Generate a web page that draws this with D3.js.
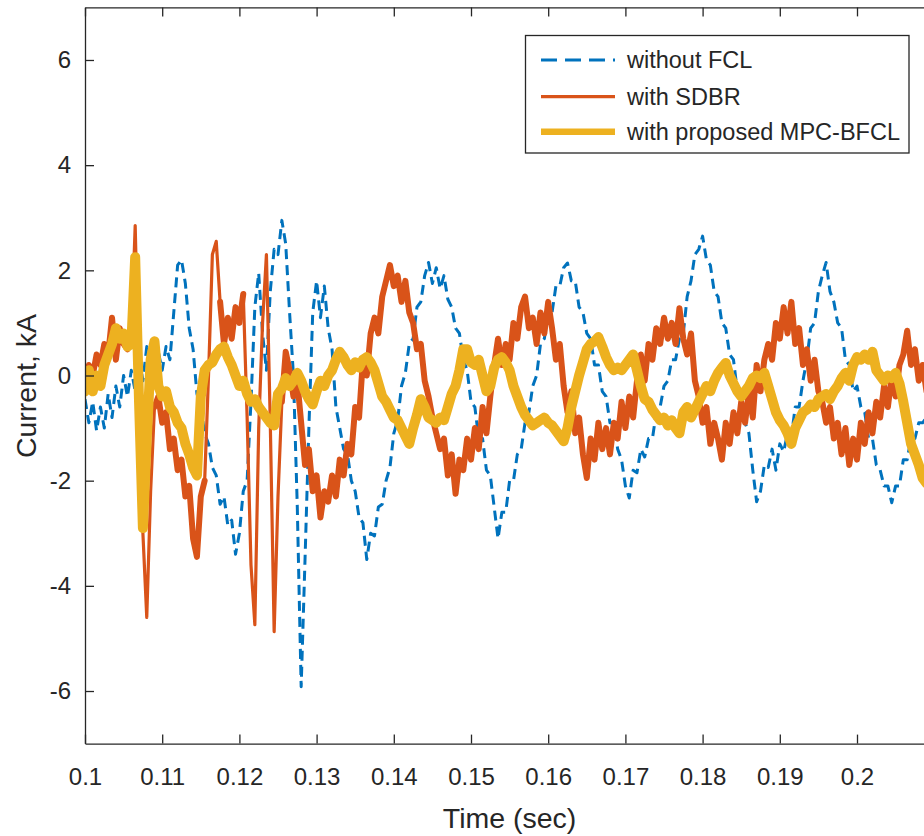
<!DOCTYPE html>
<html>
<head>
<meta charset="utf-8">
<script src="https://cdn.jsdelivr.net/npm/d3@7"></script>
<style>
  body { margin: 0; background: #fff; }
  text { font-family: "Liberation Sans", Arial, Helvetica, sans-serif; fill: #262626; }
</style>
</head>
<body>
<div id="chart"></div>
<script>
// sampling grid of the traces (sec)
var tStart = 0.1, tStep = 0.0005;

var xTicks = [0.1, 0.11, 0.12, 0.13, 0.14, 0.15, 0.16, 0.17, 0.18, 0.19, 0.2];
var yTicks = [-6, -4, -2, 0, 2, 4, 6];
var seriesNames = ["without FCL", "with SDBR", "with proposed MPC-BFCL"];

// current, kA - without FCL
var noFcl = [
  -0.45, -0.9, -0.5, -1.05, -0.6, -1.0, -0.35, -0.8, -0.2, -0.6,
  0.0, -0.4, 0.1, -0.3, 0.35, -0.1, 0.55, 0.1, -0.15, 0.45,
  0.1, 0.55, 0.3, 1.2, 2.1, 2.2, 1.75, 0.9, 0.5, -0.35,
  -0.6, -1.1, -1.3, -1.75, -1.9, -2.45, -2.3, -2.85, -2.75, -3.4,
  -3.0, -2.2, -2.0, -0.5, 1.3, 1.95, 0.8, 0.1, 1.6, 2.4,
  2.3, 2.95, 2.5, 1.2, 0.0, -2.5, -5.92, -3.5, -1.0, 1.2,
  1.8, 1.1, 1.7, 0.9, 0.5, -0.6, -1.0, -1.4, -1.5, -2.0,
  -2.2, -2.7, -2.8, -3.5, -3.0, -3.05, -2.5, -2.45, -2.0, -1.75,
  -1.1, -0.85, -0.2, 0.05, 0.6, 0.7, 1.3, 1.4, 1.9, 2.15,
  1.75, 2.05, 1.65, 1.9, 1.45, 1.3, 0.9, 0.8, 0.3, 0.1,
  -0.5, -0.6, -1.2, -1.2, -1.8, -1.9, -2.5, -3.1, -2.6, -2.6,
  -2.0, -2.0, -1.5, -1.4, -0.9, -0.7, -0.2, 0.0, 0.6, 0.7,
  1.2, 1.2, 1.7, 1.7, 2.05, 2.14, 1.8, 1.8, 1.3, 1.2,
  0.8, 0.7, 0.2, 0.2, -0.3, -0.4, -0.9, -0.9, -1.4, -1.6,
  -2.1, -2.33, -1.8, -1.85, -1.4, -1.55, -1.2, -1.2, -0.7, -0.6,
  -0.2, -0.1, 0.3, 0.3, 0.7, 0.8, 1.5, 1.8, 2.3, 2.4,
  2.65, 2.2, 2.1, 1.6, 1.5, 1.0, 0.9, 0.4, 0.3, -0.3,
  -0.4, -0.9, -1.1, -1.8, -2.4, -2.2, -1.7, -1.75, -1.4, -1.8,
  -1.3, -1.45, -1.1, -1.15, -0.6, -0.6, -0.1, 0.3, 0.9, 1.0,
  1.6, 1.9, 2.15, 1.6, 1.4, 1.0, 0.9, 0.3, 0.2, -0.3,
  -0.2, -0.6, -0.7, -1.2, -1.2, -1.7, -1.8, -2.1, -2.1, -2.42,
  -2.1, -2.1, -1.6, -1.6, -1.2, -1.2, -0.9, -0.9, -0.8
];

// current, kA - with SDBR
var sdbr = [
  -0.2, 0.2, 0.0, 0.4, 0.2, 0.6, 0.4, 1.1, 0.3, 0.9,
  0.6, 0.5, 0.7, 2.85, -0.2, -3.0, -4.6, -2.2, -0.6, -0.4,
  -0.9, -0.7, -1.4, -1.2, -1.8, -1.6, -2.3, -2.1, -3.1, -3.45,
  -2.3, -2.0, 0.0, 2.3, 2.55, 1.4, 0.6, 1.1, 0.7, 1.3,
  1.0, 1.55, -0.8, -3.6, -4.74, -1.0, 1.0, 2.3, -0.9, -4.87,
  -2.3, -0.5, 0.45, 0.1, -0.4, -0.1, -0.9, -1.7, -1.4, -2.2,
  -1.9, -2.7, -2.2, -2.4, -1.9, -2.3, -1.6, -1.9, -1.3, -1.5,
  -0.6, -0.8, 0.3, 0.0, 0.8, 1.1, 0.8, 1.5, 1.8, 2.1,
  1.7, 1.9, 1.4, 1.8, 1.2, 1.0, 0.5, 0.6, -0.1, -0.4,
  -0.8, -1.1, -1.4, -1.2, -1.9, -1.5, -2.25, -1.6, -1.8, -1.2,
  -1.6, -1.0, -1.4, -0.6, -1.1, -0.4, 0.2, 0.7, 0.2, 0.6,
  0.3, 1.0, 0.7, 1.3, 1.5, 0.9, 1.1, 0.6, 1.2, 0.8,
  1.4, 0.9, 0.3, 0.6, -0.2, -0.7, -0.3, -1.1, -0.8, -1.5,
  -1.95, -1.2, -1.6, -0.9, -1.4, -1.0, -1.5, -0.9, -1.2, -0.5,
  -1.0, -0.4, -0.8, -0.1, 0.4, -0.1, 0.6, 0.3, 0.9, 0.6,
  1.1, 0.7, 1.0, 0.6, 1.28, 0.7, 0.4, 0.8, -0.1, -0.4,
  -0.9, -0.6, -1.3, -0.9, -1.2, -1.6, -0.9, -1.3, -0.7, -1.1,
  -0.5, -0.9, -0.3, -0.8, 0.2, -0.3, 0.3, 0.6, 0.3, 1.0,
  0.7, 1.3, 0.8, 1.4, 0.6, 0.9, 0.2, 0.5, -0.1, 0.3,
  -0.3, -0.5, -0.9, -0.6, -1.2, -0.9, -1.5, -1.0, -1.7, -1.2,
  -1.6, -0.9, -1.3, -0.7, -1.1, -0.5, -0.8, -0.2, -0.6, 0.0,
  -0.4, 0.2, 0.4, 0.85, 0.2, 0.5, -0.1, 0.2, -0.3
];

// current, kA - with proposed MPC-BFCL
var mpcBfcl = [
  -0.3, 0.1, -0.3, 0.0, -0.2, 0.2, 0.4, 0.6, 0.9, 0.7,
  0.8, 0.55, 0.6, 2.25, -0.5, -2.9, -1.2, 0.3, 0.65, -0.2,
  -0.4, -0.3, -0.6, -0.7, -0.9, -1.0, -1.3, -1.5, -1.75, -1.9,
  -0.4, 0.1, 0.2, 0.25, 0.4, 0.5, 0.55, 0.35, 0.2, 0.0,
  -0.2, -0.1, -0.35, -0.5, -0.45, -0.6, -0.7, -0.8, -0.9, -0.95,
  -0.35, -0.25, -0.05, -0.2, -0.1, 0.05, -0.1, -0.3, -0.45, -0.55,
  -0.3, -0.1, -0.2, 0.0, 0.1, 0.3, 0.45, 0.35, 0.2, 0.1,
  0.25, 0.15, 0.3, 0.35, 0.25, 0.1, -0.15, -0.4, -0.5, -0.65,
  -0.8, -0.85, -1.0, -1.15, -1.3, -1.0, -0.75, -0.45, -0.6, -0.8,
  -0.85, -0.9, -0.8, -0.85, -0.6, -0.35, -0.2, 0.1, 0.5, 0.5,
  0.25, 0.2, 0.3, 0.0, -0.3, -0.2, 0.15, 0.3, 0.35, 0.25,
  0.1, -0.2, -0.4, -0.6, -0.75, -0.85, -0.95, -0.9, -0.85, -0.8,
  -0.9, -0.95, -1.05, -1.15, -1.25, -1.0, -0.6, -0.3, 0.0, 0.25,
  0.5, 0.6, 0.65, 0.73, 0.55, 0.35, 0.2, 0.1, 0.15, 0.1,
  0.2, 0.3, 0.4, 0.1, -0.2, -0.45, -0.5, -0.65, -0.75, -0.85,
  -0.8, -0.95, -0.85, -1.0, -1.1, -0.7, -0.6, -0.8, -0.65, -0.5,
  -0.35, -0.2, -0.3, -0.1, 0.05, 0.15, 0.24, 0.0, -0.15, -0.3,
  -0.4, -0.3, -0.2, -0.05, 0.0, -0.05, 0.05, -0.2, -0.45, -0.7,
  -0.85, -0.95, -1.1, -1.3, -1.0, -0.85, -0.7, -0.65, -0.55, -0.6,
  -0.45, -0.4, -0.35, -0.45, -0.3, -0.2, -0.05, 0.05, -0.1, 0.2,
  0.35, 0.3, 0.4, 0.3, 0.45, 0.1, 0.0, -0.1, 0.0, -0.05,
  0.05, -0.15, -0.5, -0.9, -1.3, -1.5, -1.7, -1.95, -2.05
];

var colors = ["#0072BD", "#D95319", "#EDB120"];

var width = 924, height = 836;
var plot = {left: 85, top: 7.4, right: 934.2, bottom: 743.6};

var svg = d3.select("#chart")
  .append("svg")
    .attr("width", width)
    .attr("height", height);

var x = d3.scaleLinear()
  .domain([0.1, 0.21])
  .range([plot.left, plot.right]);

var y = d3.scaleLinear()
  .domain([-7, 7])
  .range([plot.bottom, plot.top]);

svg.append("clipPath")
    .attr("id", "plotClip")
  .append("rect")
    .attr("x", plot.left)
    .attr("y", plot.top)
    .attr("width", plot.right - plot.left)
    .attr("height", plot.bottom - plot.top);

function toPoints(values) {
  return values.map(function(v, i) { return [tStart + i * tStep, v]; });
}

var line = d3.line()
  .x(function(d) { return x(d[0]); })
  .y(function(d) { return y(d[1]); });

var traces = svg.append("g").attr("clip-path", "url(#plotClip)");

traces.append("path")
    .attr("d", line(toPoints(noFcl)))
    .attr("fill", "none")
    .attr("stroke", colors[0])
    .attr("stroke-width", 3)
    .attr("stroke-dasharray", "10,6")
    .attr("stroke-linejoin", "round");

// sdbr: thin through the spikes, the noisy stretches look heavier
var sdbrPts = toPoints(sdbr);
traces.append("path")
    .attr("d", line(sdbrPts))
    .attr("fill", "none")
    .attr("stroke", colors[1])
    .attr("stroke-width", 3.2)
    .attr("stroke-linejoin", "round");

var sdbrHeavy = [[0, 12], [18, 31], [35, 41], [51, sdbr.length - 1]];
sdbrHeavy.forEach(function(r) {
  traces.append("path")
      .attr("d", line(sdbrPts.slice(r[0], r[1] + 1)))
      .attr("fill", "none")
      .attr("stroke", colors[1])
      .attr("stroke-width", 6)
      .attr("stroke-linejoin", "round")
      .attr("stroke-linecap", "round");
});

traces.append("path")
    .attr("d", line(toPoints(mpcBfcl)))
    .attr("fill", "none")
    .attr("stroke", colors[2])
    .attr("stroke-width", 10)
    .attr("stroke-linejoin", "round")
    .attr("stroke-linecap", "round");

var numFmt = function(d) { return String(d); };

// axes, ticks pointing inward like matlab
svg.append("g")
  .attr("transform", "translate(0," + plot.bottom + ")")
  .call(d3.axisBottom(x).tickValues(xTicks).tickSize(-9).tickSizeOuter(0).tickPadding(24.4).tickFormat(numFmt));

svg.append("g")
  .attr("transform", "translate(0," + plot.top + ")")
  .call(d3.axisTop(x).tickValues(xTicks).tickSize(-9).tickSizeOuter(0).tickFormat(""));

svg.append("g")
  .attr("transform", "translate(" + plot.left + ",0)")
  .call(d3.axisLeft(y).tickValues(yTicks).tickSize(-9).tickSizeOuter(0).tickPadding(14).tickFormat(numFmt));

svg.selectAll(".domain").attr("stroke", "#262626").attr("stroke-width", 1.3);
svg.selectAll(".tick line").attr("stroke", "#262626").attr("stroke-width", 1.3);
svg.selectAll(".tick text")
  .style("font-size", "24px")
  .attr("fill", "#262626")
  .style("font-family", "'Liberation Sans', Arial, sans-serif");

// axis labels
svg.append("text")
    .attr("x", (plot.left + plot.right) / 2)
    .attr("y", 828)
    .attr("text-anchor", "middle")
    .style("font-size", "28.5px")
    .text("Time (sec)");

svg.append("text")
    .attr("transform", "translate(36,386) rotate(-90)")
    .attr("text-anchor", "middle")
    .style("font-size", "28.5px")
    .text("Current, kA");

// legend
var legend = svg.append("g");
legend.append("rect")
    .attr("x", 525.5)
    .attr("y", 35.5)
    .attr("width", 383.5)
    .attr("height", 117.5)
    .attr("fill", "#fff")
    .attr("stroke", "#262626")
    .attr("stroke-width", 1.3);

var legendRows = [60, 96.7, 131.7];
var legendWidths = [2.8, 3.2, 6.5];
seriesNames.forEach(function(name, i) {
  var ln = legend.append("line")
      .attr("x1", 541)
      .attr("x2", 615)
      .attr("y1", legendRows[i])
      .attr("y2", legendRows[i])
      .attr("stroke", colors[i])
      .attr("stroke-width", legendWidths[i]);
  if (i === 0) ln.attr("stroke-dasharray", "16,8");
  legend.append("text")
      .attr("x", 627)
      .attr("y", legendRows[i] + 8.3)
      .style("font-size", "23.5px")
      .text(name);
});
</script>
</body>
</html>
